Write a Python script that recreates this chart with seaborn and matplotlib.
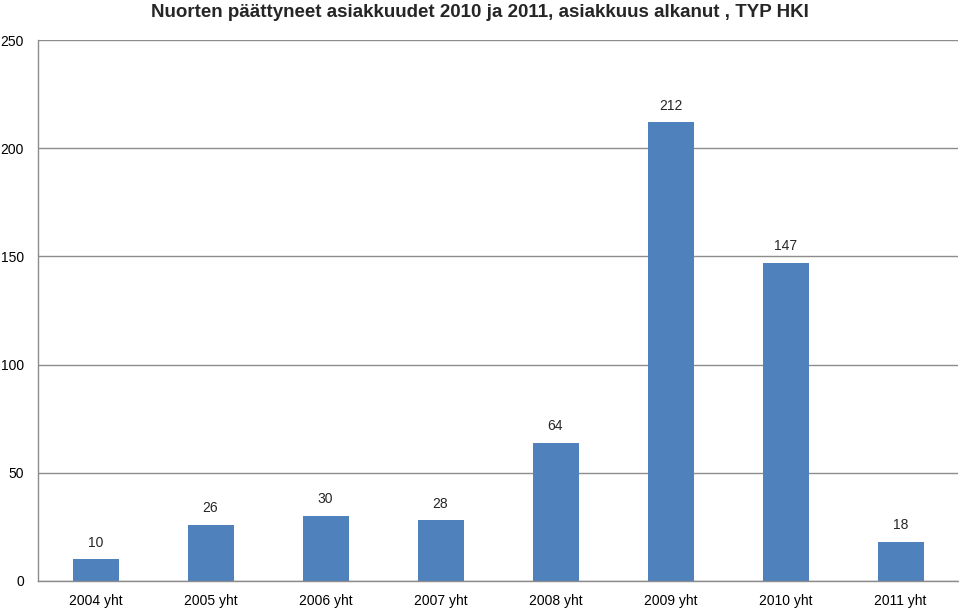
import matplotlib
matplotlib.use("Agg")
import matplotlib.pyplot as plt
import seaborn as sns
import pandas as pd

categories = ["2004 yht", "2005 yht", "2006 yht", "2007 yht", "2008 yht", "2009 yht", "2010 yht", "2011 yht"]
values = [10, 26, 30, 28, 64, 212, 147, 18]
yticks = [0, 50, 100, 150, 200, 250]
title = "Nuorten päättyneet asiakkuudet 2010 ja 2011, asiakkuus alkanut , TYP HKI"

sns.set_theme(style="white")
plt.rcParams['font.family'] = ['Liberation Sans', 'DejaVu Sans']

df = pd.DataFrame({"cat": categories, "val": values})

fig = plt.figure(figsize=(9.59, 6.11), dpi=100)
ax = fig.add_axes([38/959, 30/611, 920/959, 541/611])
sns.barplot(data=df, x="cat", y="val", color="#4F81BD", width=0.4, saturation=1,
            linewidth=0, ax=ax)
ax.set_ylim(0, 250)
ax.set_xlim(-0.5, len(categories) - 0.5)
ax.set_yticks(yticks)
ax.set_yticklabels([str(t) for t in yticks])
ax.yaxis.grid(True, color="#8C8C8C", linewidth=1)
ax.set_axisbelow(True)
ax.set_xlabel("")
ax.set_ylabel("")
for s in ["top", "right"]:
    ax.spines[s].set_visible(False)
for s in ["left", "bottom"]:
    ax.spines[s].set_color("#8C8C8C")
    ax.spines[s].set_linewidth(1)
ax.tick_params(axis="both", length=0, labelsize=10, colors="black")
ax.tick_params(axis="y", pad=10)
ax.tick_params(axis="x", pad=9)
for i, v in enumerate(values):
    ax.annotate(str(v), (i, v), xytext=(0, 7), textcoords="offset points",
                ha="center", va="bottom", fontsize=10)
fig.text(0.5, 0.993, title, ha="center", va="top", fontsize=13.5, fontweight="bold")
fig.savefig("out.png", dpi=100)
